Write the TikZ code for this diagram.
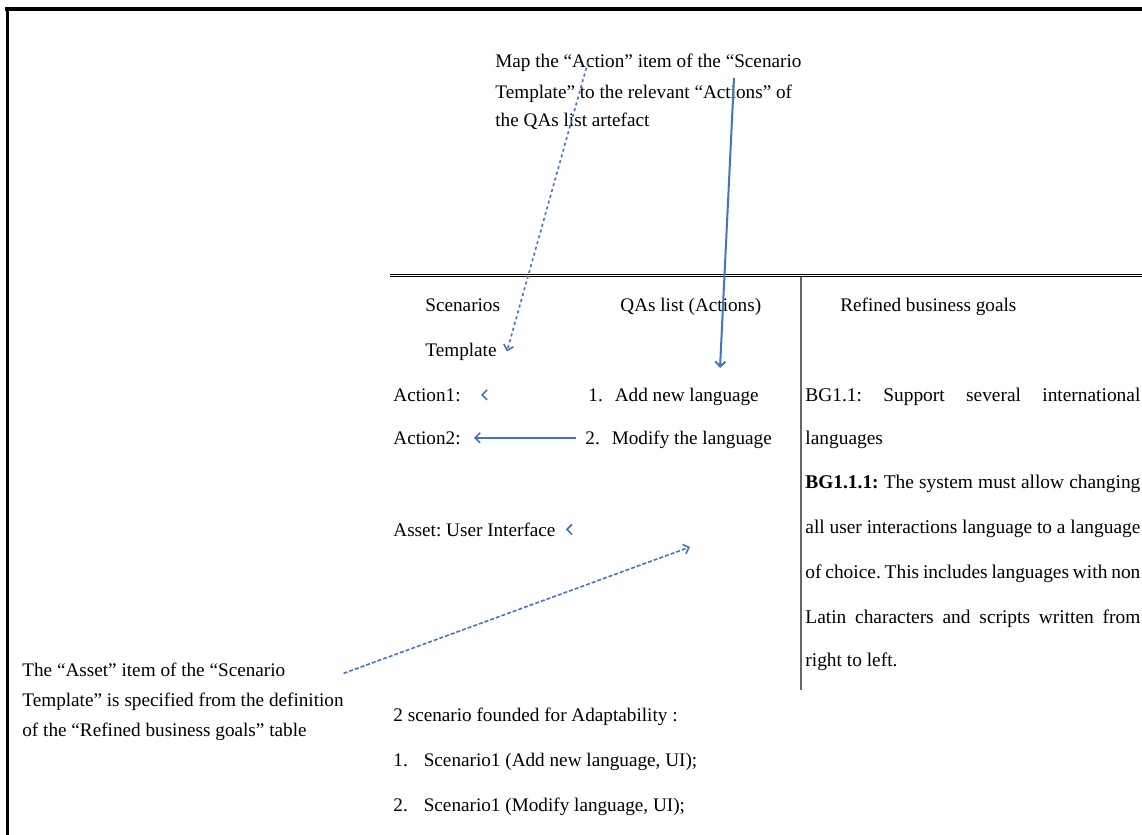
\documentclass[tikz,border=0pt]{standalone}
\usepackage{fontspec}
\setmainfont{Liberation Serif}
\usepackage{xcolor}
\definecolor{myblue}{RGB}{68,114,196}
\usepackage{tikz}
\usetikzlibrary{arrows.meta}

\begin{document}
\begin{tikzpicture}[x=0.5pt,y=-0.5pt]
	\tikzstyle{txt}=[anchor=base west,inner sep=0pt,font=\fontsize{9.6}{12}\selectfont\frenchspacing];
	\tikzstyle{goal}=[txt,font=\fontsize{9.7}{12}\selectfont\frenchspacing];
	\tikzstyle{arr}=[myblue,line width=0.8pt,-{Straight Barb[length=2.5pt,width=5pt]}];
	\tikzstyle{dots}=[dash pattern=on 1.5pt off 1.5pt];
	\useasboundingbox (0,0) rectangle (1142,835);
	%% frame and table rules
	\draw[line width=2pt] (5,9) -- (1142,9);
	\draw[line width=1.8pt] (7.5,9) -- (7.5,835);
	\draw[double,line width=0.5pt,double distance=0.5pt] (390,275) -- (1142,275);
	\draw[black!60,line width=1pt] (801,277) -- (801,690);
	%% free ends
	\coordinate (mapA)  at (588,62);
	\coordinate (mapB)  at (734,78);
	\coordinate (tipB)  at (720,368);
	\coordinate (tipF)  at (690,547);
	%% Nodes
	\node[txt] (map1) at (495,68)  {Map the “Action” item of the “Scenario};
	\node[txt] (map2) at (495,98)  {Template” to the relevant “Actions” of};
	\node[txt] (map3) at (495,126) {the QAs list artefact};
	\node[txt] (scen) at (425,311) {Scenarios};
	\node[txt] (tmpl) at (425,356) {Template};
	\node[txt] (qas)  at (620,311) {QAs list (Actions)};
	\node[txt] (rbg)  at (840,311) {Refined business goals};
	\node[txt] (act1) at (393,401) {Action1:};
	\node[txt] (act2) at (393,444) {Action2:};
	\node[txt] (qa1)  at (588,401) {1.\hspace{6pt}Add new language};
	\node[txt] (qa2)  at (585,444) {2.\hspace{6pt}Modify the language};
	\node[txt] (asset) at (393,536) {Asset: User Interface};
	\foreach \y/\t [count=\i] in {
		401/{\makebox[167.5pt][s]{BG1.1: Support several international}},
		444/{languages},
		488/{\makebox[167.5pt][s]{\textbf{BG1.1.1:} The system must allow changing}},
		533/{\makebox[167.5pt][s]{all user interactions language to a language}},
		578/{\makebox[167.5pt][s]{of choice. This includes languages with non}},
		623/{\makebox[167.5pt][s]{Latin characters and scripts written from}},
		666/{right to left.}}
		\node[goal] (bg\i) at (805,\y) {\t};
	\node[txt] (note1) at (22,676) {The “Asset” item of the “Scenario};
	\node[txt] (note2) at (22,706) {Template” is specified from the definition};
	\node[txt] (note3) at (22,736) {of the “Refined business goals” table};
	\node[txt] (found) at (393,721) {2 scenario founded for Adaptability :};
	\node[txt] (sc1)  at (393,766) {1.\hspace{8pt}Scenario1 (Add new language, UI);};
	\node[txt] (sc2)  at (393,811) {2.\hspace{8pt}Scenario1 (Modify language, UI);};
	%% connectors
	\draw[arr,dots] (mapA) -- ([xshift=5pt]tmpl.east);
	\draw[arr,line width=1pt] (mapB) -- (tipB);
	\draw[arr] ([xshift=10.5pt]act1.east) -- ([xshift=10pt]act1.east);
	\draw[arr] ([xshift=-4.5pt]qa2.west |- act2.east) -- ([xshift=6.5pt]act2.east);
	\draw[arr] ([xshift=5.5pt]asset.east) -- ([xshift=5pt]asset.east);
	\draw[arr,dash pattern=on 2pt off 1pt] ([xshift=29pt,yshift=-2pt]note1.east) -- (tipF);
\end{tikzpicture}
\end{document}
